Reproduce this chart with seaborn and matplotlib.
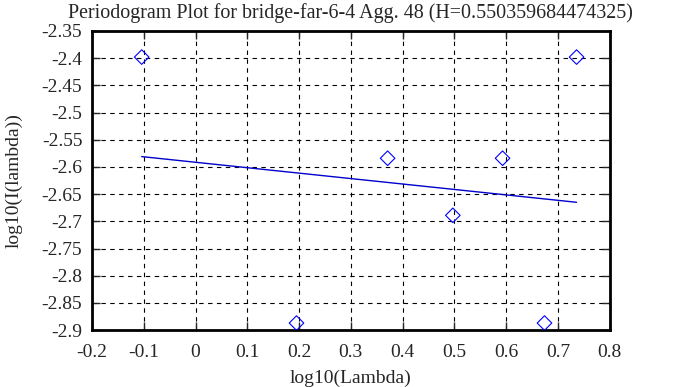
import pandas as pd
import numpy as np
import matplotlib
matplotlib.use("Agg")
import matplotlib.pyplot as plt
import seaborn as sns

# periodogram points
log_lambda = [-0.104, 0.195, 0.371, 0.497, 0.593, 0.674, 0.736]
log_i = [-2.398, -2.887, -2.584, -2.689, -2.584, -2.887, -2.398]

# fitted line end points
fit_x = [-0.104, 0.736]
fit_y = [-2.581, -2.665]

title = "Periodogram Plot for bridge-far-6-4 Agg. 48 (H=0.550359684474325)"

df = pd.DataFrame({"x": log_lambda, "y": log_i})
fit = pd.DataFrame({"x": fit_x, "y": fit_y})

sns.set_style("white")
plt.rcParams["font.family"] = ["Liberation Serif", "DejaVu Serif"]
fs = 14

fig = plt.figure(figsize=(6.83, 3.87), dpi=100)
ax = fig.add_axes([0.1347, 0.147, 0.758, 0.773])

sns.lineplot(data=fit, x="x", y="y", ax=ax, color="#0000cc", linewidth=1.0)
sns.scatterplot(data=df, x="x", y="y", ax=ax, marker="D", s=55,
                facecolor="none", edgecolor="#0000ff", linewidth=0.8, zorder=5)

ax.set_xlim(-0.2, 0.8)
ax.set_ylim(-2.9, -2.35)
ax.set_xticks(np.arange(-0.2, 0.81, 0.1))
ax.set_yticks(np.arange(-2.9, -2.349, 0.05))
ax.set_xticklabels(["-0.2", "-0.1", "0", "0.1", "0.2", "0.3", "0.4", "0.5", "0.6", "0.7", "0.8"])
ax.set_yticklabels(["-2.9", "-2.85", "-2.8", "-2.75", "-2.7", "-2.65", "-2.6",
                    "-2.55", "-2.5", "-2.45", "-2.4", "-2.35"])
ax.grid(True, color="black", linestyle=(0, (4, 4)), linewidth=0.8)
ax.tick_params(direction="in", length=6, width=1, top=True, right=True,
               bottom=True, left=True, labelsize=fs)
ax.tick_params(axis="x", pad=10)
ax.tick_params(axis="y", pad=7)
for s in ax.spines.values():
    s.set_linewidth(2)
    s.set_color("black")

ax.set_xlabel("log10(Lambda)", fontsize=fs, labelpad=6)
ax.set_ylabel("log10(I(lambda))", fontsize=fs, labelpad=14)
ax.set_title(title, fontsize=14.4, pad=9.5)

plt.savefig("out.png", dpi=100)
